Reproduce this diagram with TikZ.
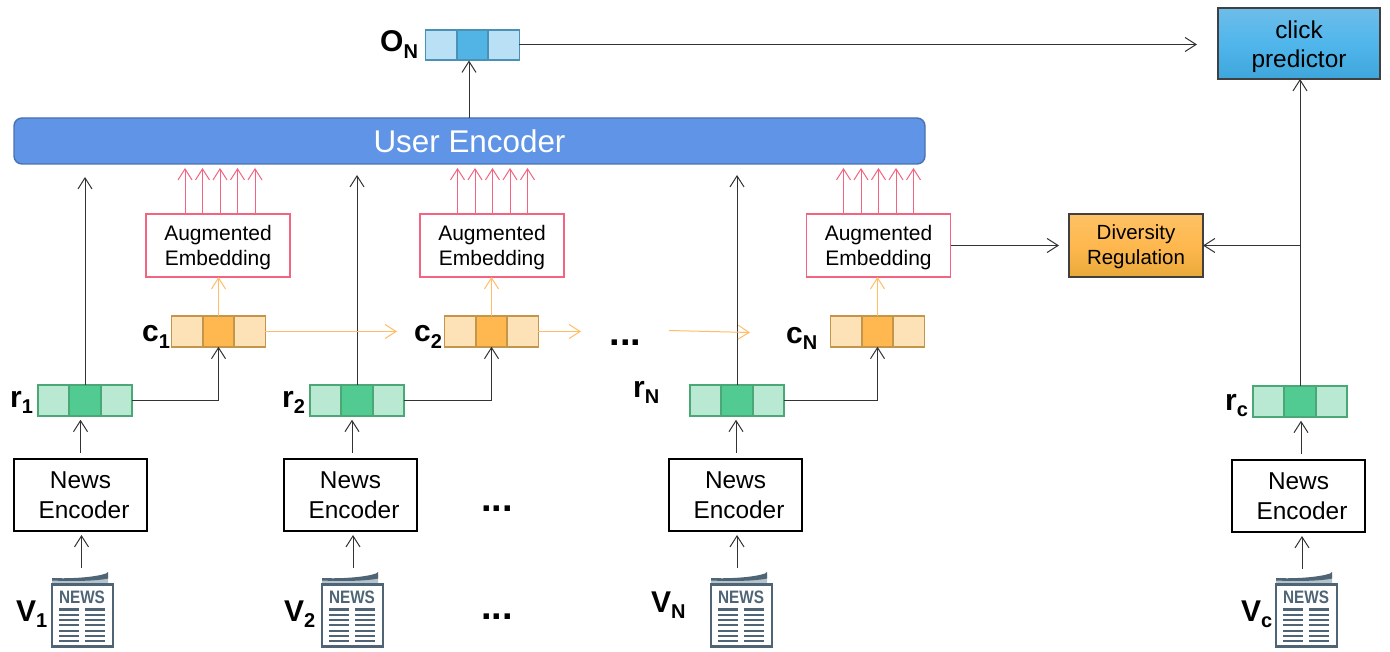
\documentclass[tikz,border=0pt]{standalone}
\usepackage{fontspec}
\usepackage{graphicx}
\setmainfont{Liberation Sans}
\usetikzlibrary{arrows.meta,calc}
\definecolor{rlight}{HTML}{B9E9D2}\definecolor{rmid}{HTML}{52CB93}\definecolor{rline}{HTML}{4AA877}
\definecolor{clight}{HTML}{FDE2B8}\definecolor{cmid}{HTML}{FFB84F}\definecolor{cline}{HTML}{C4964A}
\definecolor{olight}{HTML}{B9E0F4}\definecolor{omid}{HTML}{52B4E4}\definecolor{oline}{HTML}{4A92B5}
\definecolor{pinkc}{HTML}{F2647F}\definecolor{orangec}{HTML}{FFBE66}\definecolor{iconc}{HTML}{4F6575}
\definecolor{iconl}{HTML}{B5C3CC}
\definecolor{userc}{HTML}{5F94E6}\definecolor{userl}{HTML}{4A72B0}
\definecolor{cptop}{HTML}{6DBDE9}\definecolor{cpmid}{HTML}{50B6EC}\definecolor{cpbot}{HTML}{3EA6DA}
\definecolor{drtop}{HTML}{FDC165}\definecolor{drmid}{HTML}{FFB84F}\definecolor{drbot}{HTML}{E9A93A}
\newcommand{\fs}[1]{\fontsize{#1}{#1}\selectfont}
\newcommand{\lab}[2]{{\fs{30}\bfseries #1\raisebox{-6pt}{\fs{20}\bfseries #2}}}
\tikzset{
  arr/.style={-{Straight Barb[length=11pt,width=14pt,line width=1pt]},line width=1pt,draw=black!80},
  pinkarr/.style={arr,draw=pinkc,line width=.9pt},
  orangearr/.style={arr,draw=orangec,line width=1pt},
  cell/.style={draw=#1,line width=1.8pt,minimum width=31.3pt,minimum height=30.5pt,inner sep=0pt,outer sep=0pt},
  newsbox/.style={draw=black,line width=1.4pt,minimum width=133pt,minimum height=72pt,inner sep=0pt,outer sep=0pt,align=center,font=\fs{24.4}},
  augbox/.style={draw=pinkc,fill=white,line width=1.6pt,minimum width=144pt,minimum height=63pt,inner sep=0pt,outer sep=0pt,align=center,font=\fs{21}},
  lbl/.style={anchor=base west,inner sep=0pt},
  dots/.style={anchor=base,inner sep=0pt,font=\fs{38}\bfseries}
}
% vector of three cells: name, centre x, centre y, light, mid, line colours
\newcommand{\vecbox}[6]{%
  \node[cell=#6,fill=#4,anchor=center] (#1-l) at (#2-31.3,#3) {};
  \node[cell=#6,fill=#4,anchor=center] (#1-r) at (#2+31.3,#3) {};
  \node[cell=#6,fill=#5,anchor=center] (#1-m) at (#2,#3) {};
}
% newspaper icon: name, left x of the sheet
\newcommand{\newsicon}[2]{%
  \begin{scope}[shift={(#2,0)}]
    \fill[iconl] (0,580) .. controls (20,581) and (45,579) .. (56,575) -- (56,584) -- (0,584) -- cycle;
    \draw[iconc,line width=2.4pt,fill=white] (0,584.5) rectangle (61,646.5);
    \fill[iconc] (0,578) .. controls (20,579) and (44,577) .. (54,573.5) -- (56,572) -- (56,578.5) .. controls (45,581) and (20,581.5) .. (0,580.5) -- cycle;
    \node[inner sep=0pt,text=iconc,font=\fs{18}\bfseries] (#1) at (30,597) {\scalebox{.85}[1]{NEWS}};
    \foreach \ly in {609.5,614.8,620.1,625.4,630.7,636,641.3}{
      \draw[iconc,line width=2.1pt] (7,\ly) -- (27,\ly);
      \draw[iconc,line width=2.1pt] (33,\ly) -- (53,\ly);
    }
  \end{scope}
}
\begin{document}
\begin{tikzpicture}[x=1pt,y=-1pt]
\useasboundingbox (0,0) rectangle (1390,652);
\fill[white] (0,0) rectangle (1390,652);

% main boxes
\node[draw=userl,fill=userc,rounded corners=8pt,line width=1.4pt,minimum width=911pt,minimum height=46pt,inner sep=0pt,outer sep=0pt,text=white,font=\fs{31.4}] (ue) at (469.5,141) {User Encoder};
\node[draw=black!75,top color=cptop,bottom color=cpbot,middle color=cpmid,line width=1.2pt,minimum width=162pt,minimum height=71pt,inner sep=0pt,outer sep=0pt,align=center,font=\fs{24.4}] (cp) at (1299,43.5) {\rule{0pt}{24pt}click\\[5.5pt]predictor};
\node[draw=black!75,top color=drtop,bottom color=drbot,middle color=drmid,line width=1.2pt,minimum width=134pt,minimum height=63pt,inner sep=0pt,outer sep=0pt,align=center,font=\fs{20.5}] (dr) at (1136,245.5) {\rule{0pt}{18pt}Diversity\\[4.5pt]Regulation};

\node[augbox] (ae1) at (218,245.5) {\rule{0pt}{19.5pt}Augmented\\[4pt]Embedding};
\node[augbox] (ae2) at (492,245.5) {\rule{0pt}{19.5pt}Augmented\\[4pt]Embedding};
\node[augbox] (ae3) at (878.5,245.5) {\rule{0pt}{19.5pt}Augmented\\[4pt]Embedding};

\node[newsbox] (ne1) at (80.5,495) {News\\[5.5pt]\hspace*{7pt}Encoder};
\node[newsbox] (ne2) at (350.5,495) {News\\[5.5pt]\hspace*{7pt}Encoder};
\node[newsbox] (ne3) at (735.5,495) {News\\[5.5pt]\hspace*{7pt}Encoder};
\node[newsbox] (ne4) at (1298.5,496) {News\\[5.5pt]\hspace*{7pt}Encoder};

% vectors
\vecbox{o}{472.5}{45}{olight}{omid}{oline}
\vecbox{c1}{218.5}{331.5}{clight}{cmid}{cline}
\vecbox{c2}{491.5}{331.5}{clight}{cmid}{cline}
\vecbox{c3}{877.5}{331.5}{clight}{cmid}{cline}
\vecbox{r1}{85}{400.5}{rlight}{rmid}{rline}
\vecbox{r2}{357}{400.5}{rlight}{rmid}{rline}
\vecbox{r3}{737}{400.5}{rlight}{rmid}{rline}
\vecbox{r4}{1300}{401.5}{rlight}{rmid}{rline}

% icons
\newsicon{n1}{52}
\newsicon{n2}{322}
\newsicon{n3}{711}
\newsicon{n4}{1276}

% labels
\node[lbl] (lo) at (380,52) {\fs{30}\bfseries O\raisebox{-7pt}{\fs{20}\bfseries N}};
\node[lbl] (lr1) at (10,407) {\lab{r}{1}};
\node[lbl] (lr2) at (282,407) {\lab{r}{2}};
\node[lbl] (lr3) at (633,397) {\lab{r}{N}};
\node[lbl] (lr4) at (1225,410) {\lab{r}{c}};
\node[lbl] (lc1) at (142,342) {\lab{c}{1}};
\node[lbl] (lc2) at (414,342) {\lab{c}{2}};
\node[lbl] (lc3) at (786,344) {\lab{c}{N}};
\node[lbl] (lv1) at (16,621) {\lab{V}{1}};
\node[lbl] (lv2) at (284,621) {\lab{V}{2}};
\node[lbl] (lv3) at (651,612) {\lab{V}{N}};
\node[lbl] (lv4) at (1241,621) {\lab{V}{c}};
\node[dots] (d1) at (625.5,345.5) {...};
\node[dots] (d2) at (497,511.5) {...};
\node[dots] (d3) at (497,619.5) {...};

% free ends
\coordinate (u1) at (85,177);
\coordinate (u2) at (357,175);
\coordinate (u3) at (737,175);
\coordinate (obot) at (469,60.5);
\coordinate (ue0) at (469,118);
\coordinate (ot) at (1197,44.5);
\coordinate (drin) at (1059,245.5);
\coordinate (cn2) at (397,331.5);
\coordinate (cn3) at (581,331.5);
\coordinate (cn4a) at (669,330.5);
\coordinate (cn4b) at (750,332.5);
\coordinate (junc) at (1300,245.5);

% black connectors
\draw[arr] (ue0) -- (obot);
\draw[arr] ([yshift=.5pt]o-r.east) -- (ot);
\draw[arr] (r1-m.north) -- (u1);
\draw[arr] (r2-m.north) -- (u2);
\draw[arr] (r3-m.north) -- (u3);
\draw[arr] (r1-r.east) -| (c1-m.south);
\draw[arr] (r2-r.east) -| (c2-m.south);
\draw[arr] (r3-r.east) -| (c3-m.south);
\draw[arr] (ae3.east) -- (drin);
\draw[arr] (r4-m.north) -- (r4-m.north |- cp.south);
\draw[arr] (junc) -- (dr.east);
\foreach \a/\b/\dx in {ne1/r1/0,ne2/r2/1.5,ne3/r3/0.5,ne4/r4/2.5}{
  \draw[arr] ([xshift=\dx pt,yshift=6pt]\a.north) -- ([xshift=\dx pt,yshift=-4pt]\a.north |- \b-m.south);
  \draw[arr] ([xshift=\dx pt+1pt,yshift=-37pt]\a.south) -- ([xshift=\dx pt+1pt,yshift=-4pt]\a.south);
}

% pink connectors
\foreach \b/\off in {ae1/2,ae2/0.5,ae3/0}{
  \foreach \dx in {-35,-17.5,0,17.5,35}{
    \draw[pinkarr] ([xshift=\dx pt+\off pt,yshift=1pt]\b.north) -- ++(0,-45);
  }
}

% orange connectors
\draw[orangearr] (c1-m.north) -- (ae1.south -| c1-m.north);
\draw[orangearr] (c2-m.north) -- (ae2.south -| c2-m.north);
\draw[orangearr] (c3-m.north) -- (ae3.south -| c3-m.north);
\draw[orangearr] (c1-r.east) -- (cn2);
\draw[orangearr] (c2-r.east) -- (cn3);
\draw[orangearr] (cn4a) -- (cn4b);
\end{tikzpicture}
\end{document}
